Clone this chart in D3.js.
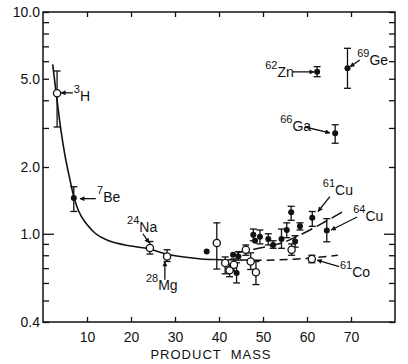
<!DOCTYPE html>
<html><head><meta charset="utf-8">
<script src="https://cdn.jsdelivr.net/npm/d3@7"></script>
<style>
body { margin: 0; background: #fff; }
text { font-family: "Liberation Sans", Arial, sans-serif; fill: #111; }
</style>
</head><body><div class="chart-container"></div>
<script>
// smooth fitted curve (solid) and the two dashed branches
const curveMass = [2.2, 3, 4, 5, 6, 7, 8, 10, 12, 15, 20, 24, 28, 32, 36, 39];
const curveVal  = [5.8, 4.3, 3.0, 2.25, 1.8, 1.47, 1.28, 1.1, 1.0, 0.93, 0.88, 0.855, 0.81, 0.785, 0.77, 0.765];
const lowMass = [39, 50, 58, 67];
const lowVal  = [0.765, 0.76, 0.77, 0.80];
const upMass = [44, 49, 55, 59, 64, 68.5];
const upVal  = [0.82, 0.86, 0.92, 1.0, 1.13, 1.27];

// open circles: mass, ratio, error low, error high
const openMass = [3.2, 24.3, 28.2, 39.5, 41.4, 42.4, 43.4, 46.1, 47.2, 48.4, 56.5, 61.1];
const openVal  = [4.3, 0.862, 0.79, 0.908, 0.738, 0.684, 0.725, 0.847, 0.75, 0.67, 0.847, 0.77];
const openLo   = [3.03, 0.81, 0.75, 0.693, 0.66, 0.64, 0.68, 0.80, 0.69, 0.59, 0.80, 0.74];
const openHi   = [5.42, 0.923, 0.847, 1.12, 0.786, 0.73, 0.77, 0.89, 0.82, 0.75, 0.90, 0.80];

// filled circles
const fillMass = [7, 37.2, 43.2, 44.4, 44, 47.8, 49.3, 48.2, 51.2, 52.3, 54.2, 55.4, 56.4, 57.3, 58.4, 61.2, 64.5, 62.3, 66.4, 69.2];
const fillVal  = [1.45, 0.832, 0.804, 0.79, 0.665, 0.99, 0.97, 0.93, 0.946, 0.89, 0.946, 1.04, 1.25, 0.923, 1.08, 1.18, 1.035, 5.38, 2.84, 5.58];
const fillLo   = [1.26, null, null, 0.76, 0.60, 0.93, 0.90, null, 0.89, 0.86, 0.86, 0.96, 1.15, 0.87, 1.04, 1.08, 0.92, 5.11, 2.56, 4.53];
const fillHi   = [1.63, null, null, 0.83, 0.74, 1.05, 1.04, null, 1.00, 0.93, 1.05, 1.12, 1.33, 0.98, 1.12, 1.26, 1.17, 5.67, 3.10, 6.86];

// nuclide labels: superscript, symbol, text anchor [mass, ratio], arrow tail, arrow head
const labSup  = ["3", "7", "24", "28", "62", "69", "66", "61", "64", "61"];
const labSym  = ["H", "Be", "Na", "Mg", "Zn", "Ge", "Ga", "Cu", "Cu", "Co"];
const labAt   = [[7.0, 3.97], [12.3, 1.39], [19.1, 1.02], [23.4, 0.56], [50.5, 5.09], [71.4, 5.78], [53.9, 2.91], [63.6, 1.50], [70.5, 1.14], [67.5, 0.64]];
const arrFrom = [[6.8, 4.32], [12.0, 1.44], [22.7, 1.0], [27.7, 0.62], [56.8, 5.37], [72.0, 6.08], [59.5, 3.03], [65.2, 1.47], [71.4, 1.19], [67.3, 0.71]];
const arrTo   = [[4.1, 4.32], [8.4, 1.44], [24.1, 0.91], [27.7, 0.748], [61.6, 5.37], [69.8, 5.66], [65.2, 2.85], [62.5, 1.26], [65.5, 1.04], [62.3, 0.76]];

const xTicks = [10, 20, 30, 40, 50, 60, 70];
const yLabels = [10, 5, 2, 1, 0.4];
const yMinor = [9, 8, 7, 6, 4, 3, 0.9, 0.8, 0.7, 0.6, 0.5];

const W = 408, H = 364;
const svg = d3.select(".chart-container").append("svg")
    .attr("width", W).attr("height", H);

const x = d3.scaleLinear().domain([0, 80]).range([43, 395]);
const y = d3.scaleLog().domain([0.4, 10]).range([322, 12]);

svg.append("defs").append("marker")
    .attr("id", "arr").attr("viewBox", "0 0 10 10")
    .attr("refX", 9).attr("refY", 5)
    .attr("markerWidth", 6).attr("markerHeight", 5)
    .attr("markerUnits", "userSpaceOnUse")
    .attr("orient", "auto")
    .append("path").attr("d", "M0,0L10,5L0,10z").attr("fill", "#111");

// frame
svg.append("rect")
    .attr("x", x(0)).attr("y", y(10))
    .attr("width", x(80) - x(0)).attr("height", y(0.4) - y(10))
    .attr("fill", "none").attr("stroke", "#111").attr("stroke-width", 1.5);

const fmtY = d => d === 10 ? "10.0" : d3.format(".1f")(d);

// axes with inward ticks
const yAll = yLabels.concat(yMinor);
const axLeft = svg.append("g").attr("transform", "translate(" + x(0) + ",0)")
    .call(d3.axisLeft(y).tickValues(yAll).tickSizeInner(-6).tickSizeOuter(0)
        .tickFormat(d => yLabels.includes(d) ? fmtY(d) : ""));
const axRight = svg.append("g").attr("transform", "translate(" + x(80) + ",0)")
    .call(d3.axisRight(y).tickValues(yAll).tickSizeInner(-6).tickSizeOuter(0).tickFormat(""));
const axBottom = svg.append("g").attr("transform", "translate(0," + y(0.4) + ")")
    .call(d3.axisBottom(x).tickValues(xTicks).tickSizeInner(-5).tickSizeOuter(0).tickFormat(d3.format("d")));
const axTop = svg.append("g").attr("transform", "translate(0," + y(10) + ")")
    .call(d3.axisTop(x).tickValues(xTicks).tickSizeInner(-5).tickSizeOuter(0).tickFormat(""));

[axLeft, axRight, axBottom, axTop].forEach(g => {
    g.select(".domain").remove();
    g.selectAll(".tick line").attr("stroke", "#111").attr("stroke-width", 1.3);
    g.selectAll("text").attr("font-size", 14).attr("fill", "#111")
        .style("font-family", "'Liberation Sans', Arial, sans-serif");
});
axLeft.selectAll(".tick").filter(d => d === 1).select("line").attr("x2", 11);
axRight.selectAll(".tick").filter(d => d === 1).select("line").attr("x2", -11);
axLeft.selectAll(".tick text").attr("x", -3);
axBottom.selectAll(".tick text").attr("y", 10);

svg.append("text")
    .attr("x", 211).attr("y", 359)
    .attr("text-anchor", "middle").attr("font-size", 13)
    .attr("letter-spacing", 1)
    .style("white-space", "pre")
    .text("PRODUCT  MASS");

// lines
const line = d3.line().x(d => x(d[0])).y(d => y(d[1])).curve(d3.curveMonotoneX);
svg.append("path").datum(d3.zip(curveMass, curveVal))
    .attr("d", line).attr("fill", "none").attr("stroke", "#111").attr("stroke-width", 1.6);
svg.append("path").datum(d3.zip(lowMass, lowVal))
    .attr("d", line).attr("fill", "none").attr("stroke", "#111").attr("stroke-width", 1.5)
    .attr("stroke-dasharray", "8,5");
svg.append("path").datum(d3.zip(upMass, upVal))
    .attr("d", line).attr("fill", "none").attr("stroke", "#111").attr("stroke-width", 1.5)
    .attr("stroke-dasharray", "12,5");

// error bars
function errBars(mass, lo, hi) {
    const rows = d3.zip(mass, lo, hi).filter(r => r[1] !== null);
    const g = svg.append("g").attr("stroke", "#111").attr("stroke-width", 1.3);
    g.selectAll(".v").data(rows).join("line")
        .attr("x1", d => x(d[0])).attr("x2", d => x(d[0]))
        .attr("y1", d => y(d[1])).attr("y2", d => y(d[2]));
    g.selectAll(".lo").data(rows).join("line")
        .attr("x1", d => x(d[0]) - 3.5).attr("x2", d => x(d[0]) + 3.5)
        .attr("y1", d => y(d[1])).attr("y2", d => y(d[1]));
    g.selectAll(".hi").data(rows).join("line")
        .attr("x1", d => x(d[0]) - 3.5).attr("x2", d => x(d[0]) + 3.5)
        .attr("y1", d => y(d[2])).attr("y2", d => y(d[2]));
}
errBars(openMass, openLo, openHi);
errBars(fillMass, fillLo, fillHi);

svg.append("g").selectAll("circle").data(d3.zip(fillMass, fillVal)).join("circle")
    .attr("cx", d => x(d[0])).attr("cy", d => y(d[1])).attr("r", 3)
    .attr("fill", "#111");
svg.append("g").selectAll("circle").data(d3.zip(openMass, openVal)).join("circle")
    .attr("cx", d => x(d[0])).attr("cy", d => y(d[1])).attr("r", 3.6)
    .attr("fill", "#fff").attr("stroke", "#111").attr("stroke-width", 1.3);

// labels and arrows
labSym.forEach((s, i) => {
    svg.append("line")
        .attr("x1", x(arrFrom[i][0])).attr("y1", y(arrFrom[i][1]))
        .attr("x2", x(arrTo[i][0])).attr("y2", y(arrTo[i][1]))
        .attr("stroke", "#111").attr("stroke-width", 1.3)
        .attr("marker-end", "url(#arr)");
    const t = svg.append("text").attr("x", x(labAt[i][0])).attr("y", y(labAt[i][1]));
    t.append("tspan").attr("font-size", 11).attr("dy", -8).text(labSup[i]);
    t.append("tspan").attr("font-size", 14).attr("dy", 8).text(s);
});
</script></body></html>
